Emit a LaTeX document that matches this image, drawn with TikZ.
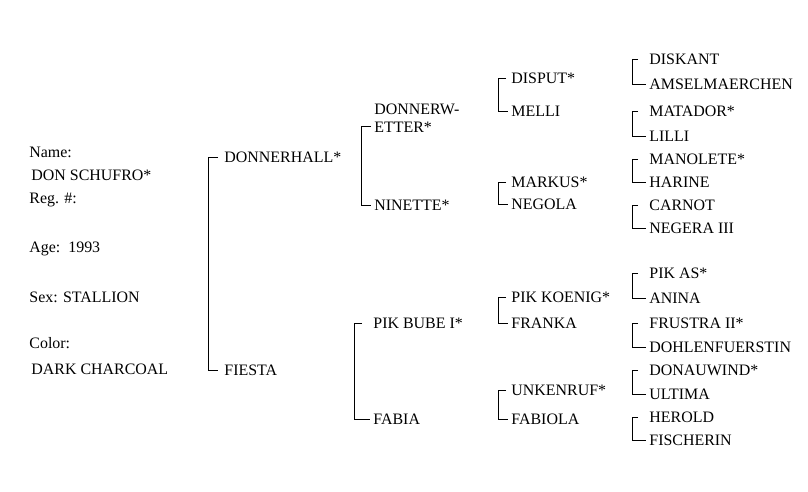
\documentclass[tikz,border=0pt]{standalone}
\usepackage{fontspec}
\setmainfont{Liberation Serif}
\begin{document}
\begin{tikzpicture}[x=0.03cm, y=-0.03cm,
        horse/.style = {anchor = west, inner sep = 1pt, font = \fontsize{13.6}{15}\selectfont},
        info/.style  = {anchor = west, inner sep = 1pt, font = \fontsize{13.6}{15}\selectfont}]
    \useasboundingbox (0, 0) rectangle (808, 491);

    % left column
    \node (name)  [info] at (28, 152) {Name:};
    \node (horse) [info] at (30, 175) {DON SCHUFRO*};
    \node (reg)   [info] at (28, 200) {Reg. \#:};
    \node (age)   [info] at (28, 249) {Age:\ \ 1993};
    \node (sex)   [info] at (28, 297) {Sex: STALLION};
    \node (color) [info] at (28, 343) {Color:};
    \node (coat)  [info] at (30, 369) {DARK CHARCOAL};

    % parents
    \node (dh) [horse] at (223, 157) {DONNERHALL*};
    \node (fi) [horse] at (223, 370) {FIESTA};

    % grandparents
    \node (dw) [horse, align = left] at (373, 118) {DONNERW-\\ETTER*};
    \node (ni) [horse] at (373, 205) {NINETTE*};
    \node (pb) [horse] at (372, 323) {PIK BUBE I*};
    \node (fa) [horse] at (372, 419) {FABIA};

    % great-grandparents
    \node (di) [horse] at (510, 78)  {DISPUT*};
    \node (me) [horse] at (510, 111) {MELLI};
    \node (ma) [horse] at (510, 182) {MARKUS*};
    \node (ne) [horse] at (510, 204) {NEGOLA};
    \node (pk) [horse] at (510, 297) {PIK KOENIG*};
    \node (fr) [horse] at (510, 323) {FRANKA};
    \node (un) [horse] at (510, 390) {UNKENRUF*};
    \node (fb) [horse] at (510, 419) {FABIOLA};

    % fourth generation
    \foreach \name/\y/\label in {
            a1/59/DISKANT, a2/84/AMSELMAERCHEN,
            b1/111/MATADOR*, b2/136/LILLI,
            c1/159/MANOLETE*, c2/182/HARINE,
            d1/205/CARNOT, d2/228/NEGERA III,
            e1/273/PIK AS*, e2/298/ANINA,
            f1/323/FRUSTRA II*, f2/347/DOHLENFUERSTIN,
            g1/370/DONAUWIND*, g2/394/ULTIMA,
            h1/417/HEROLD, h2/440/FISCHERIN}
        \node (\name) [horse] at (648, \y) {\label};

    % brackets
    \draw ([xshift = -0.15cm] dh.west) -- ++(-10, 0) |- ([xshift = -0.15cm] fi.west);
    \draw ([xshift = -0.06cm, yshift = -0.24cm] dw.west) -- ++(-10, 0) |- ([xshift = -0.06cm] ni.west);
    \draw ([xshift = -0.3cm] pb.west) -- ++(-8, 0) |- ([xshift = -0.06cm] fa.west);
    \foreach \top/\bot in {di/me, ma/ne, pk/fr, un/fb}
        \draw ([xshift = -0.12cm] \top.west) -- ++(-8, 0) |- ([xshift = -0.06cm] \bot.west);
    \foreach \top/\bot in {a1/a2, b1/b2, c1/c2, d1/d2, e1/e2, f1/f2, g1/g2, h1/h2}
        \draw ([xshift = -0.3cm] \top.west) -- ++(-6, 0) |- ([xshift = -0.06cm] \bot.west);
\end{tikzpicture}
\end{document}
